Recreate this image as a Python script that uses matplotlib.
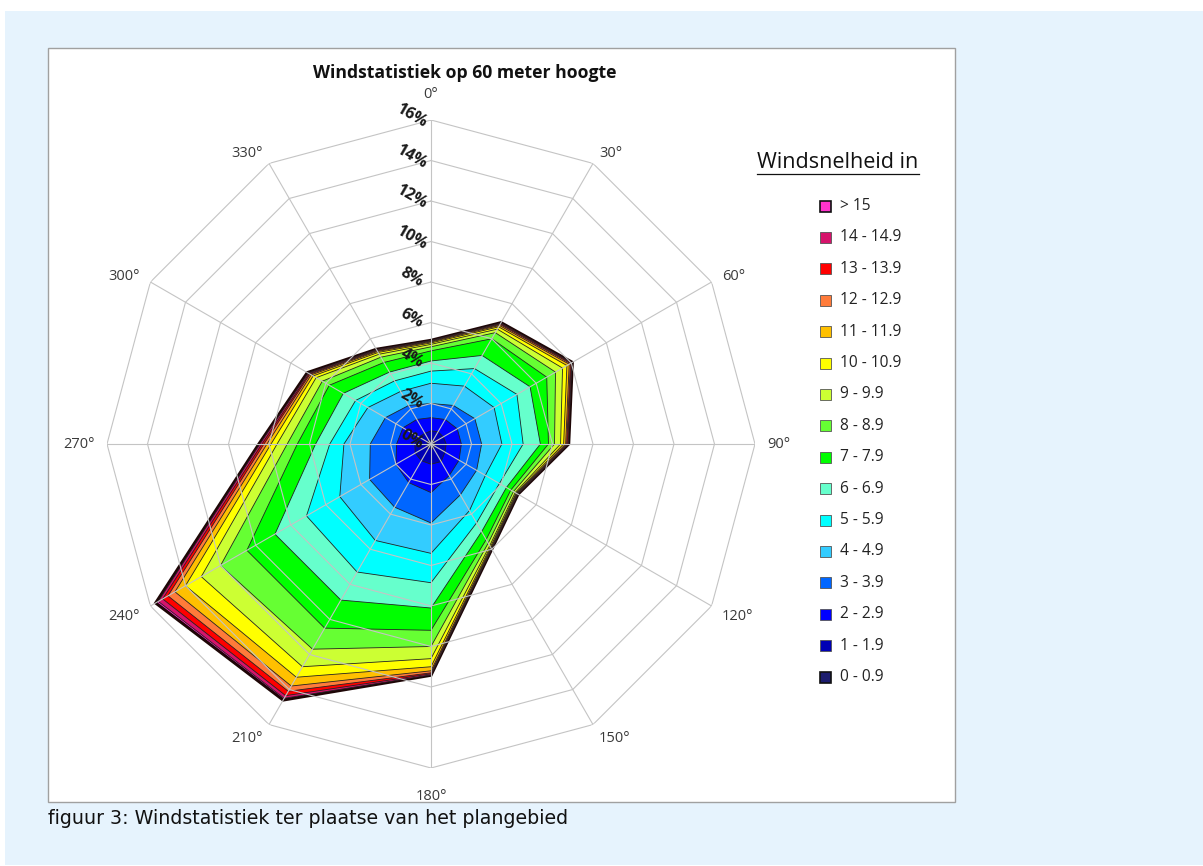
import numpy as np
import matplotlib
matplotlib.use("Agg")
from matplotlib import pyplot as plt
from matplotlib.patches import Rectangle

# richtingen (graden) en snelheidsklassen
richtingen = [0, 30, 60, 90, 120, 150, 180, 210, 240, 270, 300, 330]
klassen = ["0 - 0.9", "1 - 1.9", "2 - 2.9", "3 - 3.9", "4 - 4.9", "5 - 5.9",
           "6 - 6.9", "7 - 7.9", "8 - 8.9", "9 - 9.9", "10 - 10.9", "11 - 11.9",
           "12 - 12.9", "13 - 13.9", "14 - 14.9", "> 15"]
kleuren = ['#1c1c6e', '#0000b4', '#0000ff', '#0066ff', '#33ccff', '#00ffff',
           '#66ffcc', '#00ff00', '#66ff33', '#ccff33', '#ffff00', '#ffc000',
           '#ff7b3a', '#ff0000', '#d6136b', '#ff33cc']

# cumulatieve percentages per richting (klasse 0-0.9 ... >15)
d000 = [0.2, 0.65, 1.3, 2.0, 3.0, 3.6, 4.1, 4.6, 4.8, 4.92, 4.99, 5.04, 5.07, 5.09, 5.11, 5.12]
d030 = [0.2, 0.7, 1.4, 2.2, 3.3, 4.3, 5.05, 6.0, 6.35, 6.55, 6.68, 6.76, 6.82, 6.86, 6.89, 6.92]
d060 = [0.2, 0.7, 1.5, 2.5, 3.6, 4.9, 5.65, 6.6, 7.1, 7.5, 7.75, 7.88, 7.95, 8.0, 8.03, 8.06]
d090 = [0.2, 0.75, 1.5, 2.5, 3.5, 4.55, 5.4, 5.8, 6.1, 6.4, 6.55, 6.65, 6.7, 6.75, 6.78, 6.8]
d120 = [0.2, 0.8, 1.6, 2.6, 3.1, 3.9, 4.3, 4.55, 4.7, 4.8, 4.85, 4.88, 4.91, 4.93, 4.95, 4.96]
d150 = [0.25, 1.0, 1.8, 2.9, 3.8, 4.5, 5.0, 5.45, 5.65, 5.8, 5.87, 5.92, 5.95, 5.97, 5.99, 6.0]
d180 = [0.25, 1.0, 2.4, 3.9, 5.4, 6.85, 8.1, 9.2, 10.0, 10.6, 11.0, 11.2, 11.3, 11.35, 11.4, 11.42]
d210 = [0.25, 0.95, 2.2, 3.6, 5.5, 7.3, 8.9, 10.5, 11.7, 12.7, 13.3, 13.8, 14.1, 14.35, 14.5, 14.6]
d240 = [0.2, 0.9, 2.0, 3.5, 5.2, 7.1, 8.9, 10.5, 12.0, 13.1, 14.0, 14.6, 15.0, 15.3, 15.55, 15.7]
d270 = [0.2, 0.8, 1.7, 3.0, 4.3, 5.0, 5.7, 6.6, 7.1, 7.6, 7.9, 8.1, 8.25, 8.35, 8.45, 8.5]
d300 = [0.2, 0.7, 1.6, 2.6, 3.6, 4.3, 5.0, 5.8, 6.2, 6.55, 6.72, 6.83, 6.9, 6.95, 7.0, 7.05]
d330 = [0.2, 0.6, 1.4, 2.2, 3.0, 3.6, 4.1, 4.65, 4.95, 5.12, 5.22, 5.28, 5.32, 5.35, 5.38, 5.4]

ringen = [2, 4, 6, 8, 10, 12, 14, 16]

W, H = 1203, 866
fig = plt.figure(figsize=(W / 100, H / 100), dpi=100)

def fx(x):
    return x / W

def fy(y):
    return 1 - y / H

# achtergrond
fig.add_artist(Rectangle((fx(5), fy(865)), 1 - fx(5), fy(11) - fy(865),
                         transform=fig.transFigure, facecolor='#e6f3fd',
                         edgecolor='none', zorder=-2))
fig.add_artist(Rectangle((fx(48), fy(802)), fx(955) - fx(48), fy(48) - fy(802),
                         transform=fig.transFigure, facecolor='white',
                         edgecolor='#a0a0a0', lw=1, zorder=-1))

cx, cy, R = 431, 444, 324
ax = fig.add_axes([fx(cx - R), fy(cy + R), 2 * R / W, 2 * R / H], projection='polar')
ax.set_zorder(1)
ax.set_theta_zero_location('N')
ax.set_theta_direction(-1)
ax.set_ylim(0, 16)
ax.set_axis_off()

th = np.deg2rad(richtingen + [richtingen[0]])
data = np.array([d000, d030, d060, d090, d120, d150, d180, d210, d240, d270, d300, d330])

# vlakken van buiten naar binnen
for k in range(len(klassen) - 1, -1, -1):
    r = list(data[:, k]) + [data[0, k]]
    if k == len(klassen) - 1:
        ax.fill(th, r, facecolor=kleuren[k], edgecolor='#1e0606', lw=2.2, zorder=2)
    else:
        ax.fill(th, r, facecolor=kleuren[k], edgecolor='#222222', lw=0.6, zorder=2)

# rasterlijnen
for rr in ringen:
    ax.plot(th, [rr] * len(th), color='#c4c4c4', lw=0.8, zorder=4)
for t in th[:-1]:
    ax.plot([t, t], [0, 16], color='#c4c4c4', lw=0.8, zorder=4)

# labels
for d in richtingen:
    s, c = np.sin(np.deg2rad(d)), np.cos(np.deg2rad(d))
    ha = 'left' if s > 0.1 else ('right' if s < -0.1 else 'center')
    extra = 13 if abs(c) > 0.99 else 0
    dx = 12 * s * 0.72
    dy = (12 + extra) * c * 0.72
    if c < -0.1:
        dy -= 4 * 0.72
    ax.annotate(f"{d}°", xy=(np.deg2rad(d), 16), xytext=(dx, dy),
                textcoords='offset points', ha=ha, va='center',
                fontsize=10.5, color='#3a3a3a', family='Open Sans',
                annotation_clip=False)
for rr in [0] + ringen:
    ax.annotate(f"{rr}%", xy=(0, rr), xytext=(-14, 3), textcoords='offset points',
                ha='center', va='center', rotation=-30, fontsize=11.5,
                fontweight='bold', color='#1a1a1a', family='Open Sans', zorder=6)

fig.text(fx(465), fy(73), "Windstatistiek op 60 meter hoogte", ha='center', va='center',
         fontsize=12.7, fontweight='bold', family='Open Sans', color='#111111')

# legenda
fig.text(fx(757), fy(162), "Windsnelheid in", ha='left', va='center',
         fontsize=15.5, family='Open Sans', color='#111111')
fig.add_artist(plt.Line2D([fx(757), fx(919)], [fy(174), fy(174)],
                          transform=fig.transFigure, color='#111111', lw=0.9))
for i, k in enumerate(range(len(klassen) - 1, -1, -1)):
    y = 206 + i * 31.4
    ec = '#111111' if k in (0, len(klassen) - 1) else '#555555'
    fig.add_artist(Rectangle((fx(820), fy(y + 5.5)), 11 / W, 11 / H,
                             transform=fig.transFigure, facecolor=kleuren[k],
                             edgecolor=ec, lw=1.2 if ec == '#111111' else 0.6))
    fig.text(fx(840), fy(y), klassen[k], ha='left', va='center',
             fontsize=11.2, family='Open Sans', color='#222222')

fig.text(fx(48), fy(818), "figuur 3: Windstatistiek ter plaatse van het plangebied",
         ha='left', va='center', fontsize=13.7, family='DejaVu Sans', color='#111111')

fig.savefig("out.png", dpi=100)
